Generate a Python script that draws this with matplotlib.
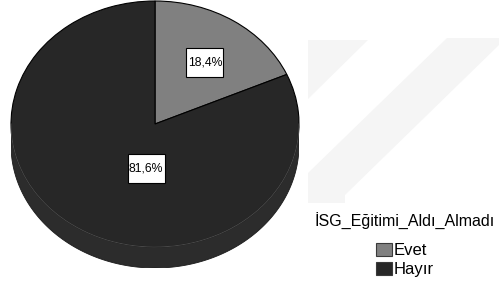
import matplotlib
matplotlib.use("Agg")
import matplotlib.pyplot as plt
import numpy as np
from matplotlib.patches import Polygon, Rectangle

plt.rcParams['font.family'] = ['Liberation Sans', 'DejaVu Sans']

# ---- data ----
categories = ["Evet", "Hayır"]
percentages = [18.4, 81.6]
pct_labels = ["18,4%", "81,6%"]
legend_title = "İSG_Eğitimi_Aldı_Almadı"

# ---- style ----
colors = ["#808080", "#272727"]
side_color = "#2c2c2c"
W, H = 499, 288
fig = plt.figure(figsize=(W / 100, H / 100), dpi=100)

# background watermark (faint)
bg = fig.add_axes([0, 0, 1, 1])
bg.set_xlim(0, W)
bg.set_ylim(H, 0)
bg.axis("off")
wm = "#f5f5f5"
bg.add_patch(Polygon([(308, 40), (368, 40), (308, 99)], closed=True, fc=wm, ec="none"))
bg.add_patch(Polygon([(447, 38), (499, 38), (499, 45), (345, 195), (345, 203),
                      (308, 203), (308, 173)], closed=True, fc=wm, ec="none"))

# pie axes (pixel box: x 11..299, y 1..268)
px_left, px_right, px_top, px_bottom = 11, 299, 1, 268
face_bottom = 247
ry_px = (face_bottom - px_top) / 2.0
depth = (px_bottom - face_bottom) / ry_px
ax = fig.add_axes([px_left / W, (H - px_bottom) / H,
                   (px_right - px_left) / W, (px_bottom - px_top) / H])

# side of the 3D disc
t = np.linspace(np.pi, 2 * np.pi, 200)
side = [(-1, 0)] + list(zip(np.cos(t), np.sin(t) - depth)) + [(1, 0)]
ax.add_patch(Polygon(side, closed=True, fc=side_color, ec="#1a1a1a", lw=0.6, zorder=0))

wedges, _ = ax.pie(percentages, colors=colors, startangle=90, counterclock=False,
                   radius=1, center=(0, 0),
                   wedgeprops=dict(edgecolor="black", linewidth=0.8))
for w in wedges:
    w.set_zorder(1)
ax.plot(np.cos(t), np.sin(t), color="#474747", lw=0.8, zorder=2)
ax.set_aspect("auto")
ax.set_xlim(-1, 1)
ax.set_ylim(-1 - depth, 1)
ax.axis("off")

# labels with white boxes
rx_px = (px_right - px_left) / 2.0
label_pos = [(0.347, 0.504), (-0.0625, -0.358)]
box_w, box_h = 37 / rx_px, 29 / ry_px
for (lx, ly), lab in zip(label_pos, pct_labels):
    ax.add_patch(Rectangle((lx - box_w / 2, ly - box_h / 2), box_w, box_h,
                           fc="white", ec="black", lw=0.8, zorder=3))
    ax.text(lx, ly, lab, ha="center", va="center", fontsize=8.8, zorder=4)

leg = fig.legend(wedges, categories, title=legend_title,
                 loc="upper center", bbox_to_anchor=(405 / W, 1 - 213 / H),
                 frameon=False, fontsize=12, title_fontsize=11.5,
                 handlelength=0.95, handleheight=0.9, handletextpad=0.15,
                 labelspacing=0.2, borderpad=0.0, borderaxespad=0.0)
leg._legend_box.sep = 9
for h in leg.legend_handles:
    h.set_edgecolor("#3a3a3a")

fig.savefig("out.png", dpi=100)
